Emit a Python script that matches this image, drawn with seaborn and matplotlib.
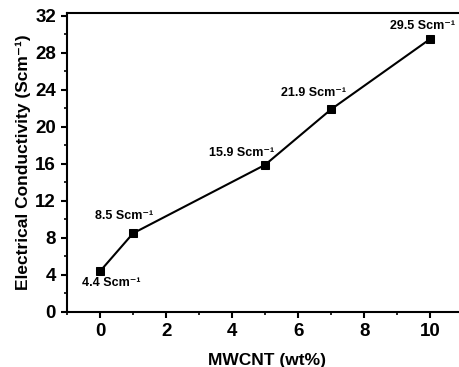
import numpy as np
import pandas as pd
import matplotlib
matplotlib.use("Agg")
import matplotlib.pyplot as plt
import seaborn as sns
from matplotlib.ticker import MultipleLocator

# data
mwcnt = [0, 1, 5, 7, 10]
conductivity = [4.4, 8.5, 15.9, 21.9, 29.5]
labels = ["4.4", "8.5", "15.9", "21.9", "29.5"]
# label offsets (pixels) relative to each point
offsets = [(11, -12), (-9, 17), (-24, 12), (-18, 16), (-8, 13)]

sns.set_style("ticks")
plt.rcParams["font.family"] = ["Liberation Sans", "DejaVu Sans"]
plt.rcParams["font.weight"] = "bold"
plt.rcParams["text.color"] = "black"
plt.rcParams["axes.labelcolor"] = "black"
plt.rcParams["axes.edgecolor"] = "black"
plt.rcParams["xtick.color"] = "black"
plt.rcParams["ytick.color"] = "black"

df = pd.DataFrame({"MWCNT": mwcnt, "Cond": conductivity})

fig = plt.figure(figsize=(4.6, 3.67), dpi=100)
ax = fig.add_axes([0.1457, 0.1499, 0.87, 0.8147])

sns.lineplot(data=df, x="MWCNT", y="Cond", ax=ax, color="black",
             linewidth=1.5, marker="s", markersize=6, markeredgecolor="black")

sup = "\u207b\u00b9"
for x, y, lab, (dx, dy) in zip(mwcnt, conductivity, labels, offsets):
    ax.annotate(lab + " Scm" + sup, (x, y), xytext=(dx, dy),
                textcoords="offset pixels", ha="center", va="center",
                fontsize=9, fontweight="bold", color="black")

ax.set_xlim(-1, 11.12)
ax.set_ylim(0, 32.3)
ax.xaxis.set_major_locator(MultipleLocator(2))
ax.xaxis.set_minor_locator(MultipleLocator(1))
ax.yaxis.set_major_locator(MultipleLocator(4))
ax.yaxis.set_minor_locator(MultipleLocator(2))
ax.tick_params(which="major", direction="out", length=4, width=1.5, labelsize=13.5, pad=4)
ax.tick_params(which="minor", direction="out", length=2.5, width=1.2)
for t in ax.get_xticklabels() + ax.get_yticklabels():
    t.set_fontweight("bold")
for s in ax.spines.values():
    s.set_linewidth(1.5)

ax.set_xlabel("MWCNT (wt%)", fontsize=12.5, fontweight="bold", labelpad=9)
ax.set_ylabel("Electrical Conductivity (Scm" + sup + ")", fontsize=12.5,
              fontweight="bold", labelpad=3)

fig.savefig("out.png", dpi=100)
